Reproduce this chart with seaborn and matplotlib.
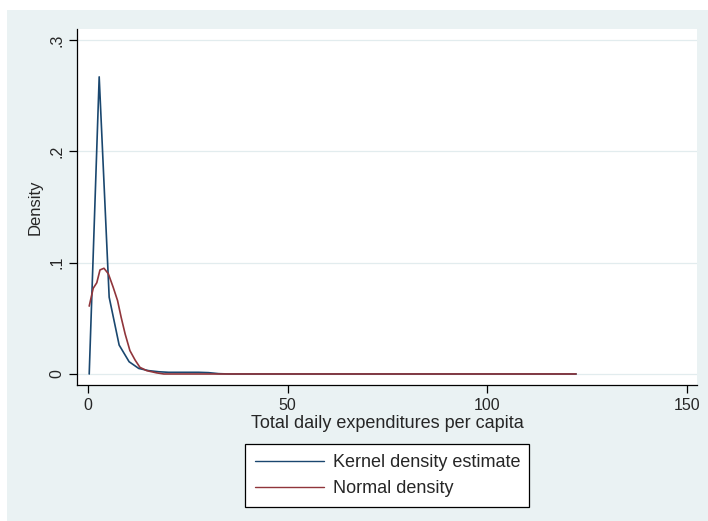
import matplotlib
matplotlib.use("Agg")
import matplotlib.pyplot as plt
import seaborn as sns
import pandas as pd
from matplotlib.patches import Rectangle

# Kernel density estimate
kde_x = [0.3, 2.8, 5.3, 7.8, 10.3, 12.7, 15.2, 17.7, 20.2, 22.7, 25.2, 27.7, 30.2, 32.7, 35.2, 60.0, 90.0, 122.3]
kde_y = [0.0, 0.267, 0.069, 0.026, 0.011, 0.005, 0.003, 0.002, 0.0015, 0.0015, 0.0015, 0.0015, 0.0012, 0.0003, 0.0, 0.0, 0.0, 0.0]

# Normal density
norm_x = [0.3, 1.3, 2.2, 3.0, 4.0, 5.1, 6.3, 7.4, 8.3, 9.3, 10.5, 11.8, 13.0, 14.7, 17.2, 19.0, 40.0, 80.0, 122.3]
norm_y = [0.061, 0.077, 0.082, 0.0935, 0.095, 0.090, 0.078, 0.066, 0.051, 0.036, 0.021, 0.0125, 0.006, 0.003, 0.001, 0.0, 0.0, 0.0, 0.0]

series_names = ["Kernel density estimate", "Normal density"]
x_ticks = [0, 50, 100, 150]
y_ticks = [0, 0.1, 0.2, 0.3]
y_tick_labels = ["0", ".1", ".2", ".3"]

sns.set_theme(style="white")
plt.rcParams["font.family"] = ["Liberation Sans", "DejaVu Sans"]

W, H = 708, 521
fig = plt.figure(figsize=(W / 100, H / 100), dpi=100)
bg = "#EAF2F3"
fig.patch.set_facecolor(bg)
fig.patches.append(Rectangle((0, 1 - 10 / H), 1, 10 / H, transform=fig.transFigure,
                             facecolor="white", edgecolor="none", zorder=0))
fig.patches.append(Rectangle((0, 0), 7 / W, 1, transform=fig.transFigure,
                             facecolor="white", edgecolor="none", zorder=0))

ax = fig.add_axes([77 / W, 1 - 385 / H, (697 - 77) / W, (385 - 29) / H])
ax.set_facecolor("white")

df = pd.concat([
    pd.DataFrame({"x": kde_x, "y": kde_y, "s": series_names[0]}),
    pd.DataFrame({"x": norm_x, "y": norm_y, "s": series_names[1]}),
])
sns.lineplot(data=df, x="x", y="y", hue="s", palette=["#1A476F", "#90353B"],
             linewidth=1.2, ax=ax, sort=False, estimator=None)

ax.set_xlim(-2.76, 152.6)
ax.set_ylim(-0.0099, 0.31)

for yv in y_ticks:
    ax.axhline(yv, color="#E2ECEE", lw=0.9, zorder=0)

ax.set_xticks(x_ticks)
ax.set_xticklabels([str(v) for v in x_ticks], fontsize=11.5)
ax.set_yticks(y_ticks)
ax.set_yticklabels(y_tick_labels, fontsize=11.5, rotation=90, va="center")
ax.tick_params(axis="both", direction="out", length=6, width=0.9, color="black",
               bottom=True, left=True, pad=3)

for side in ["top", "right"]:
    ax.spines[side].set_visible(False)
for side in ["left", "bottom"]:
    ax.spines[side].set_color("black")
    ax.spines[side].set_linewidth(0.9)

ax.set_xlabel("Total daily expenditures per capita", fontsize=13, labelpad=2)
ax.set_ylabel("Density", fontsize=12, labelpad=5)

leg = ax.legend(loc="upper left", bbox_to_anchor=(245 / W, 1 - 444 / H, (529 - 245) / W, 0),
                bbox_transform=fig.transFigure, mode="expand", fontsize=13,
                frameon=True, fancybox=False, edgecolor="black", framealpha=1,
                handlelength=3.8, handletextpad=0.55, labelspacing=0.5, borderpad=0.55,
                borderaxespad=0)
leg.get_frame().set_linewidth(0.9)
for line in leg.get_lines():
    line.set_linewidth(1.0)

fig.savefig("out.png", dpi=100, facecolor=fig.get_facecolor())
